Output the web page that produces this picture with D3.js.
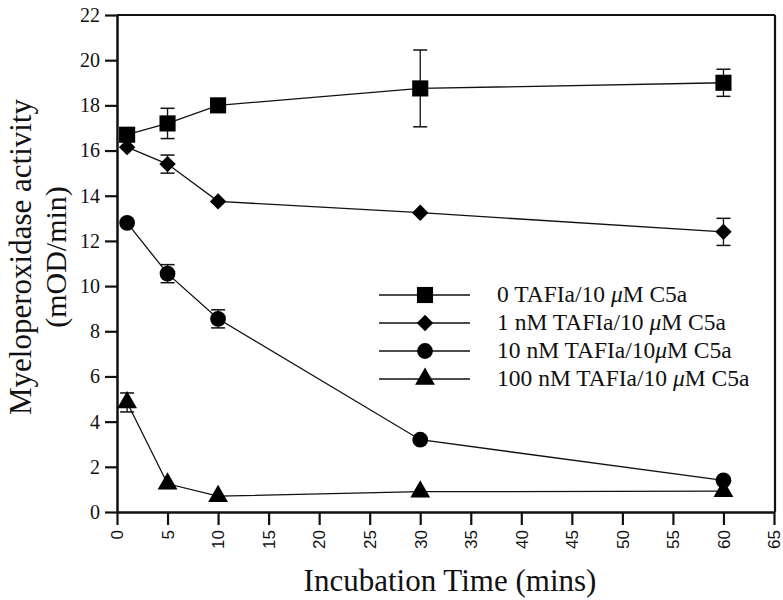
<!DOCTYPE html>
<html>
<head>
<meta charset="utf-8">
<script src="https://cdn.jsdelivr.net/npm/d3@7"></script>
<style>
  body { margin: 0; background: #fff; }
  svg { display: block; }
</style>
</head>
<body>
<div id="chart"></div>
<script>
const times = [1, 5, 10, 30, 60];
const seriesNames = [
  "0 TAFIa/10 μM C5a",
  "1 nM TAFIa/10 μM C5a",
  "10 nM TAFIa/10μM C5a",
  "100 nM TAFIa/10 μM C5a"
];
const tafi0 = [16.7, 17.2, 18.0, 18.75, 19.0];
const tafi0Err = [0, 0.67, 0, 1.7, 0.6];
const tafi1 = [16.15, 15.4, 13.75, 13.25, 12.4];
const tafi1Err = [0, 0.4, 0, 0, 0.6];
const tafi10 = [12.8, 10.55, 8.55, 3.2, 1.4];
const tafi10Err = [0, 0.4, 0.4, 0, 0];
const tafi100 = [4.85, 1.25, 0.7, 0.9, 0.92];
const tafi100Err = [0.42, 0, 0, 0, 0];
const xTicks = d3.range(0, 70, 5);
const yTicks = d3.range(0, 24, 2);

const width = 783, height = 600;
const plot = { left: 117, right: 774, top: 15, bottom: 512 };

const svg = d3.select("#chart").append("svg")
  .attr("width", width)
  .attr("height", height);

const x = d3.scaleLinear().domain([0, 65]).range([plot.left, plot.right]);
const y = d3.scaleLinear().domain([0, 22]).range([plot.bottom, plot.top]);

// frame top + right
svg.append("line").attr("x1", plot.left).attr("x2", plot.right + 1)
  .attr("y1", plot.top).attr("y2", plot.top)
  .attr("stroke", "#111").attr("stroke-width", 2.2);
svg.append("line").attr("x1", plot.right + 1).attr("x2", plot.right + 1)
  .attr("y1", plot.top).attr("y2", plot.bottom)
  .attr("stroke", "#111").attr("stroke-width", 2.2);

const xAxis = svg.append("g")
  .attr("transform", `translate(0, ${plot.bottom})`)
  .call(d3.axisBottom(x).tickValues(xTicks).tickSize(13).tickSizeOuter(0));
xAxis.select(".domain").attr("stroke", "#111").attr("stroke-width", 2.5);
xAxis.selectAll(".tick line").attr("stroke", "#111").attr("stroke-width", 2.2);
xAxis.selectAll(".tick text")
  .attr("transform", "rotate(-90)")
  .attr("x", -18).attr("y", 0).attr("dy", "0.34em")
  .attr("text-anchor", "end")
  .attr("fill", "#111")
  .style("font-family", "'Liberation Sans', Arial, sans-serif")
  .style("font-size", "17px");

const yAxis = svg.append("g")
  .attr("transform", `translate(${plot.left}, 0)`)
  .call(d3.axisLeft(y).tickValues(yTicks).tickSize(12).tickPadding(5).tickSizeOuter(0));
yAxis.select(".domain").attr("stroke", "#111").attr("stroke-width", 2.5);
yAxis.selectAll(".tick line").attr("stroke", "#111").attr("stroke-width", 2.2);
yAxis.selectAll(".tick text")
  .attr("fill", "#111")
  .style("font-family", "'Liberation Serif', 'Times New Roman', serif")
  .style("font-size", "20px");

// axis titles
svg.append("text")
  .attr("transform", "translate(31, 257) rotate(-90)")
  .attr("text-anchor", "middle")
  .style("font-family", "'Liberation Serif', 'Times New Roman', serif")
  .style("font-size", "31px")
  .attr("fill", "#111")
  .text("Myeloperoxidase activity");
svg.append("text")
  .attr("transform", "translate(66, 257) rotate(-90)")
  .attr("text-anchor", "middle")
  .style("font-family", "'Liberation Serif', 'Times New Roman', serif")
  .style("font-size", "30px")
  .attr("fill", "#111")
  .text("(mOD/min)");
svg.append("text")
  .attr("x", 450).attr("y", 591)
  .attr("text-anchor", "middle")
  .style("font-family", "'Liberation Serif', 'Times New Roman', serif")
  .style("font-size", "31px")
  .attr("fill", "#111")
  .text("Incubation Time (mins)");

// diamond = square turned 45deg
const series = [
  { vals: tafi0, err: tafi0Err, sym: d3.symbolSquare, size: 260, rot: 0 },
  { vals: tafi1, err: tafi1Err, sym: d3.symbolSquare, size: 135, rot: 45 },
  { vals: tafi10, err: tafi10Err, sym: d3.symbolCircle, size: 195, rot: 0 },
  { vals: tafi100, err: tafi100Err, sym: d3.symbolTriangle, size: 170, rot: 0 }
];

const line = d3.line().x(d => x(d.t)).y(d => y(d.v));

series.forEach((s) => {
  const pts = times.map((t, i) => ({ t: t, v: s.vals[i], e: s.err[i] }));
  const g = svg.append("g");
  g.append("path").datum(pts)
    .attr("d", line)
    .attr("fill", "none")
    .attr("stroke", "#111")
    .attr("stroke-width", 1.3);

  const eb = g.selectAll(".err").data(pts.filter(d => d.e > 0)).join("g");
  eb.append("line")
    .attr("x1", d => x(d.t)).attr("x2", d => x(d.t))
    .attr("y1", d => y(d.v - d.e)).attr("y2", d => y(d.v + d.e))
    .attr("stroke", "#111").attr("stroke-width", 1.3);
  eb.selectAll(".cap").data(d => [d.v - d.e, d.v + d.e].map(v => ({ t: d.t, v: v })))
    .join("line")
    .attr("x1", d => x(d.t) - 7).attr("x2", d => x(d.t) + 7)
    .attr("y1", d => y(d.v)).attr("y2", d => y(d.v))
    .attr("stroke", "#111").attr("stroke-width", 1.5);

  g.selectAll(".pt").data(pts).join("path")
    .attr("transform", d => `translate(${x(d.t)}, ${y(d.v)}) rotate(${s.rot})`)
    .attr("d", d3.symbol().type(s.sym).size(s.size))
    .attr("fill", "#000");
});

// legend
const legRowY = [295, 323, 351, 379];
const leg = svg.append("g");
series.forEach((s, i) => {
  const ly = legRowY[i];
  leg.append("line")
    .attr("x1", 379).attr("x2", 470).attr("y1", ly).attr("y2", ly)
    .attr("stroke", "#111").attr("stroke-width", 1.3);
  leg.append("path")
    .attr("transform", `translate(425, ${ly}) rotate(${s.rot})`)
    .attr("d", d3.symbol().type(s.sym).size(s.size))
    .attr("fill", "#000");
  const txt = leg.append("text")
    .attr("x", 497).attr("y", ly + 7)
    .style("font-family", "'Liberation Serif', 'Times New Roman', serif")
    .style("font-size", "23.5px")
    .attr("fill", "#111");
  const parts = seriesNames[i].split("μ");
  txt.append("tspan").text(parts[0]);
  txt.append("tspan").style("font-style", "italic").text("μ");
  txt.append("tspan").text(parts[1]);
});
</script>
</body>
</html>
